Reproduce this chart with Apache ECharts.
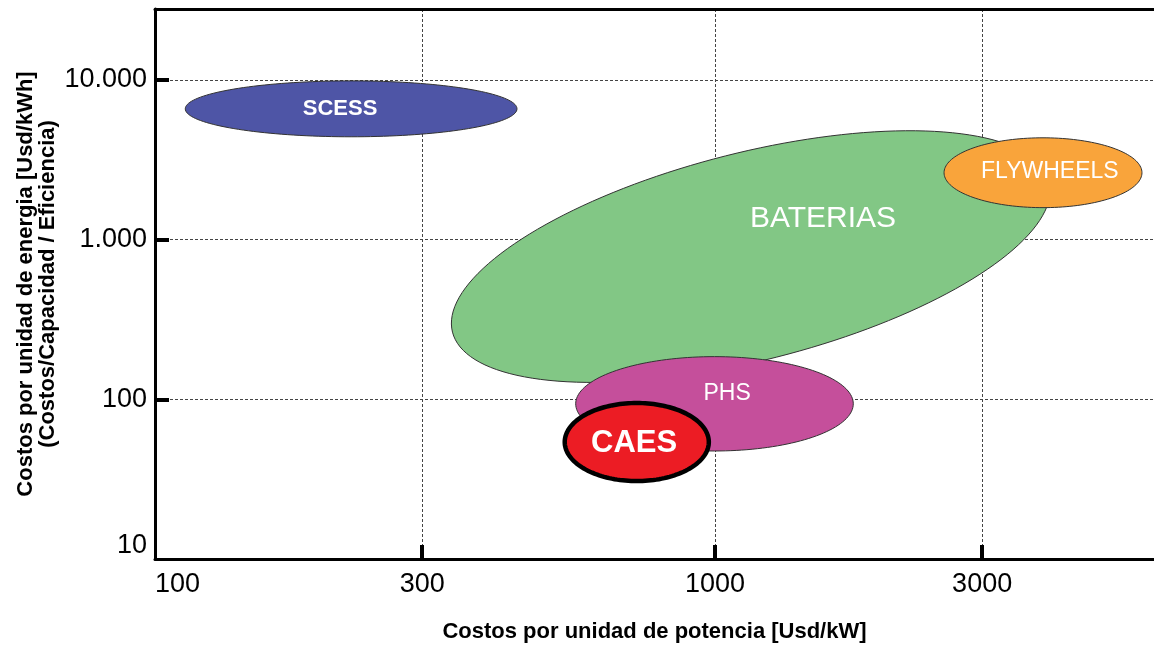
<!DOCTYPE html>
<html>
<head>
<meta charset="utf-8">
<script src="https://cdn.jsdelivr.net/npm/echarts@6/dist/echarts.min.js"></script>
<style>
  html, body { margin: 0; padding: 0; background: #fff; }
  #chart { width: 1154px; height: 648px; }
</style>
</head>
<body>
<div id="chart"></div>
<script>
// ---- Data (USD/kW for power cost, USD/kWh for energy cost) ----
const techNames   = ['SCESS', 'BATERIAS', 'FLYWHEELS', 'PHS', 'CAES'];
// centre of each region
const centerPower  = [224, 1159, 3853, 998, 725];
const centerEnergy = [6590, 783, 2623, 93.7, 54];
// one end of the long axis of each region
const majorPower   = [443, 3953, 5788, 1766, 975];
const majorEnergy  = [6590, 2328, 2623, 93.7, 54];
// one end of the short axis of each region
const minorPower   = [224, 1044, 3853, 998, 725];
const minorEnergy  = [9860, 3342, 4340, 185, 94.8];
// label anchor of each region
const labelPower   = [214, 1559, 3963, 1051, 717];
const labelEnergy  = [6590, 1353, 2661, 109, 53];

const xTickValues = [100, 300, 1000, 3000];
const xTickLabels = ['100', '300', '1000', '3000'];
const yTickValues = [10, 100, 1000, 10000];
const yTickLabels = ['10', '100', '1.000', '10.000'];

// ---- Styles ----
const fills   = ['#4e55a6', '#82c785', '#f9a43b', '#c54f9b', '#ec1c24'];
const strokes = ['#333', '#333', '#333', '#333', '#000'];
const strokeW = [1, 1, 1, 1, 4.5];
const fontSz  = [22, 30, 23, 23, 31];
const fontWt  = ['bold', 'normal', 'normal', 'normal', 'bold'];

const lg = Math.log10;
const FONT = '"Liberation Sans", Arial, Helvetica, sans-serif';
const X_MIN = 2, X_MAX = 3.784;
const Y_MIN = 1, Y_MAX = 4.444;

function labelFor(values, labels) {
  return function (v) {
    let best = 0, bd = Infinity;
    values.forEach((t, k) => { const d = Math.abs(lg(t) - v); if (d < bd) { bd = d; best = k; } });
    return labels[best];
  };
}

function renderItem(params, api) {
  const i = api.value(2);
  const c = api.coord([api.value(0), api.value(1)]);
  const m = api.coord([lg(majorPower[i]), lg(majorEnergy[i])]);
  const n = api.coord([lg(minorPower[i]), lg(minorEnergy[i])]);
  const ax = m[0] - c[0], ay = m[1] - c[1];
  const a = Math.hypot(ax, ay);
  const ang = Math.atan2(ay, ax);
  const b = Math.hypot(n[0] - c[0], n[1] - c[1]);
  const ca = Math.cos(ang), sa = Math.sin(ang);
  const pts = [];
  const N = 160;
  for (let k = 0; k < N; k++) {
    const t = 2 * Math.PI * k / N;
    const ex = a * Math.cos(t), ey = b * Math.sin(t);
    pts.push([c[0] + ex * ca - ey * sa, c[1] + ex * sa + ey * ca]);
  }
  const lp = api.coord([lg(labelPower[i]), lg(labelEnergy[i])]);
  return {
    type: 'group',
    children: [
      {
        type: 'polygon',
        shape: { points: pts, smooth: 0 },
        style: { fill: fills[i], stroke: strokes[i], lineWidth: strokeW[i] }
      },
      {
        type: 'text',
        style: {
          text: techNames[i], x: lp[0], y: lp[1],
          fill: '#fff', fontSize: fontSz[i], fontWeight: fontWt[i], fontFamily: FONT,
          align: 'center', verticalAlign: 'middle'
        }
      }
    ]
  };
}

const chart = echarts.init(document.getElementById('chart'));
const gridStyle = { show: true, lineStyle: { color: '#444', width: 1, type: [3, 2] } };

chart.setOption({
  animation: false,
  backgroundColor: '#fff',
  grid: { left: 155, right: 0, top: 9, bottom: 88 },
  xAxis: [
    {
      type: 'value', min: X_MIN, max: X_MAX, position: 'bottom',
      name: 'Costos por unidad de potencia [Usd/kW]',
      nameLocation: 'middle', nameGap: 62, nameMoveOverlap: false,
      nameTextStyle: { fontSize: 22, fontWeight: 'bold', color: '#000', fontFamily: FONT },
      axisLine: { show: true, onZero: false, lineStyle: { color: '#000', width: 3 } },
      axisTick: { show: true, inside: true, length: 14, lineStyle: { color: '#000', width: 4 },
                  customValues: xTickValues.slice(1).map(lg) },
      axisLabel: { customValues: xTickValues.slice(1).map(lg), formatter: labelFor(xTickValues, xTickLabels),
                   fontSize: 27, color: '#000', fontFamily: FONT, margin: 12 },
      splitLine: gridStyle
    },
    {
      type: 'value', min: X_MIN, max: X_MAX, position: 'top',
      axisLine: { show: true, onZero: false, lineStyle: { color: '#000', width: 3 } },
      axisTick: { show: false }, axisLabel: { show: false }, splitLine: { show: false }
    },
    {
      type: 'value', min: X_MIN, max: X_MAX, position: 'bottom',
      axisLine: { show: false }, axisTick: { show: false }, splitLine: { show: false },
      axisLabel: { customValues: [lg(xTickValues[0])], formatter: labelFor(xTickValues, xTickLabels),
                   fontSize: 27, color: '#000', fontFamily: FONT, margin: 12, align: 'left' }
    }
  ],
  yAxis: [
    {
      type: 'value', min: Y_MIN, max: Y_MAX, position: 'left',
      name: 'Costos por unidad de energia [Usd/kWh]\n(Costos/Capacidad / Eficiencia)',
      nameLocation: 'middle', nameGap: 96, nameRotate: 90, nameMoveOverlap: false,
      nameTextStyle: { fontSize: 22, fontWeight: 'bold', color: '#000', fontFamily: FONT, lineHeight: 22 },
      axisLine: { show: true, onZero: false, lineStyle: { color: '#000', width: 3 } },
      axisTick: { show: true, inside: true, length: 14, lineStyle: { color: '#000', width: 4 },
                  customValues: yTickValues.slice(1).map(lg) },
      axisLabel: { customValues: yTickValues.slice(1).map(lg), formatter: labelFor(yTickValues, yTickLabels),
                   fontSize: 27, color: '#000', fontFamily: FONT, margin: 8 },
      splitLine: gridStyle
    },
    {
      type: 'value', min: Y_MIN, max: Y_MAX, position: 'left',
      axisLine: { show: false }, axisTick: { show: false }, splitLine: { show: false },
      axisLabel: { customValues: [lg(yTickValues[0])], formatter: labelFor(yTickValues, yTickLabels),
                   fontSize: 27, color: '#000', fontFamily: FONT, margin: 8, verticalAlign: 'bottom' }
    }
  ],
  series: [{
    type: 'custom',
    xAxisIndex: 0, yAxisIndex: 0,
    renderItem: renderItem,
    clip: false,
    data: techNames.map((nm, i) => [lg(centerPower[i]), lg(centerEnergy[i]), i])
  }]
});
</script>
</body>
</html>
